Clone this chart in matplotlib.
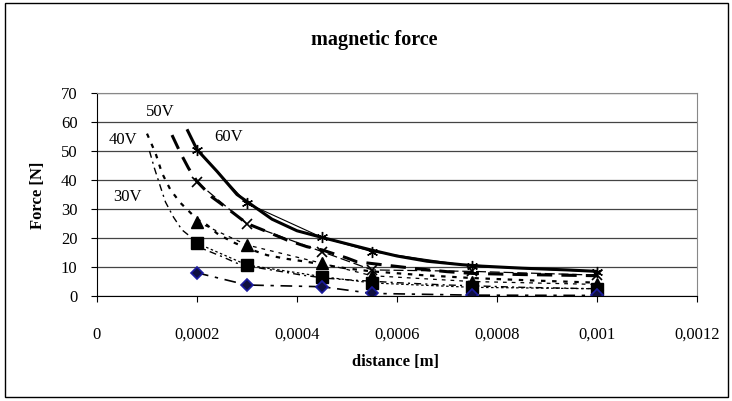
import matplotlib
matplotlib.use('Agg')
import matplotlib.pyplot as plt
from matplotlib.patches import Rectangle

plt.rcParams['font.family'] = ['Liberation Serif', 'DejaVu Serif']

# measured points
dist = [0.0002, 0.0003, 0.00045, 0.00055, 0.00075, 0.001]
f_star = [50.5, 32.0, 20.2, 15.3, 10.3, 8.4]
f_cross = [39.3, 24.8, 15.3, 9.0, 8.5, 7.2]
f_tri = [25.6, 17.6, 11.3, 7.0, 5.0, 4.0]
f_sq = [18.2, 10.7, 6.7, 4.5, 3.0, 2.5]
f_dia = [8.0, 3.8, 3.2, 0.9, 0.3, 0.2]

# fitted curves
x60 = [0.00018, 0.0002, 0.00024, 0.00028, 0.00035, 0.0004, 0.00045, 0.0005,
       0.00055, 0.0006, 0.00066, 0.00073, 0.00077, 0.00085, 0.00094, 0.001]
y60 = [57.5, 50.5, 43.0, 35.0, 26.5, 22.5, 20.2, 18.0, 15.8, 13.8, 12.0,
       10.8, 10.3, 9.6, 9.0, 8.5]
x50 = [0.00015, 0.000167, 0.000183, 0.0002, 0.00023, 0.00026, 0.0003, 0.00034,
       0.00038, 0.00042, 0.00045, 0.0005, 0.00052, 0.00056, 0.00063, 0.0007,
       0.00075, 0.00085, 0.001]
y50 = [55.5, 49.3, 44.1, 39.5, 34.1, 30.3, 25.0, 22.2, 19.3, 17.0, 15.9, 13.1,
       11.8, 11.0, 9.6, 8.4, 7.8, 7.4, 7.0]
x40 = [0.0001, 0.000117, 0.00013, 0.000147, 0.000167, 0.0002, 0.00022, 0.00024,
       0.00027, 0.0003, 0.00034, 0.00038, 0.00042, 0.00045, 0.0005, 0.00055,
       0.00065, 0.00075, 0.00088, 0.001]
y40 = [56.0, 49.3, 42.4, 36.6, 32.1, 26.5, 24.5, 21.6, 18.7, 16.5, 14.1, 12.8,
       11.8, 10.9, 9.5, 8.5, 7.2, 6.2, 5.3, 4.6]
x30 = [0.000105, 0.000115, 0.000127, 0.000137, 0.000153, 0.00017, 0.000183, 0.0002,
       0.00021, 0.00025, 0.00028, 0.00033, 0.00037, 0.00041, 0.00046, 0.00051,
       0.0006, 0.0007, 0.00085, 0.001]
y30 = [50.0, 44.0, 37.6, 32.4, 27.2, 22.8, 21.0, 18.2, 16.4, 13.6, 11.3, 9.5,
       8.4, 7.2, 6.1, 5.5, 4.6, 3.8, 3.0, 2.5]

xticks = [0, 0.0002, 0.0004, 0.0006, 0.0008, 0.001, 0.0012]
xtick_labels = ['0', '0,0002', '0,0004', '0,0006', '0,0008', '0,001', '0,0012']
yticks = [0, 10, 20, 30, 40, 50, 60, 70]

curve_labels = ['30V', '40V', '50V', '60V']
label_pos = [(0.0000606, 34.1), (0.0000526, 53.8), (0.000127, 63.4), (0.000263, 54.8)]


def plot():
    fig = plt.figure(figsize=(7.32, 4.01), dpi=100)
    fig.patches.append(Rectangle((0.007, 0.01), 0.988, 0.982, transform=fig.transFigure,
                                 fill=False, edgecolor='black', linewidth=1.0))
    ax = fig.add_axes([0.1325, 0.2618, 0.8197, 0.5062])

    # trend curves
    ax.plot(x60, y60, color='black', linewidth=2.2, solid_capstyle='butt')
    ax.plot(x50, y50, color='black', linewidth=2.2, dashes=(5, 3))
    ax.plot(x40, y40, color='black', linewidth=1.6, dashes=(2, 3))
    ax.plot(x30, y30, color='black', linewidth=1.0, dashes=(5, 3, 1.5, 3))

    # measured series
    ax.plot(dist, f_star, color='black', linewidth=0.8, marker=(6, 2, 0),
            markersize=8, markeredgewidth=1.0)
    ax.plot(dist, f_cross, color='black', linewidth=0.9, dashes=(8, 3), marker='x',
            markersize=7, markeredgewidth=1.2)
    ax.plot(dist, f_tri, color='black', linewidth=0.9, dashes=(3, 4), marker='^',
            markersize=8)
    ax.plot(dist, f_sq, color='black', linewidth=0.9, dashes=(2, 2), marker='s',
            markersize=8)
    ax.plot(dist, f_dia, color='black', linewidth=1.2, dashes=(7, 4, 2, 4), marker='D',
            markersize=6, markerfacecolor='#101040', markeredgecolor='#1c1ca0',
            markeredgewidth=1.2)

    for txt, (tx, ty) in zip(curve_labels, label_pos):
        ax.text(tx, ty, txt, fontsize=12, ha='center', va='center')

    ax.set_xlim(0, 0.0012)
    ax.set_ylim(0, 70)
    ax.set_xticks(xticks)
    ax.set_xticklabels(xtick_labels, fontsize=12)
    ax.set_yticks(yticks)
    ax.set_yticklabels([str(v) for v in yticks], fontsize=12)
    ax.tick_params(axis='both', direction='out', length=4, width=0.8, color='black')
    ax.tick_params(axis='x', pad=18)
    ax.tick_params(axis='y', pad=10)
    ax.grid(axis='y', color='#444444', linewidth=0.9)
    ax.set_axisbelow(True)
    ax.spines['top'].set_color('#888888')
    ax.spines['right'].set_color('#888888')
    ax.spines['left'].set_color('black')
    ax.spines['bottom'].set_color('black')

    fig.text(374 / 732, 1 - 40 / 401, 'magnetic force', fontsize=14.5, fontweight='bold',
             ha='center', va='center')
    fig.text(395 / 732, 1 - 362 / 401, 'distance [m]', fontsize=12, fontweight='bold',
             ha='center', va='center')
    fig.text(38 / 732, 1 - 195 / 401, 'Force [N]', fontsize=12, fontweight='bold',
             ha='center', va='center', rotation=90)

    fig.savefig('out.png', dpi=100)


if __name__ == '__main__':
    plot()
